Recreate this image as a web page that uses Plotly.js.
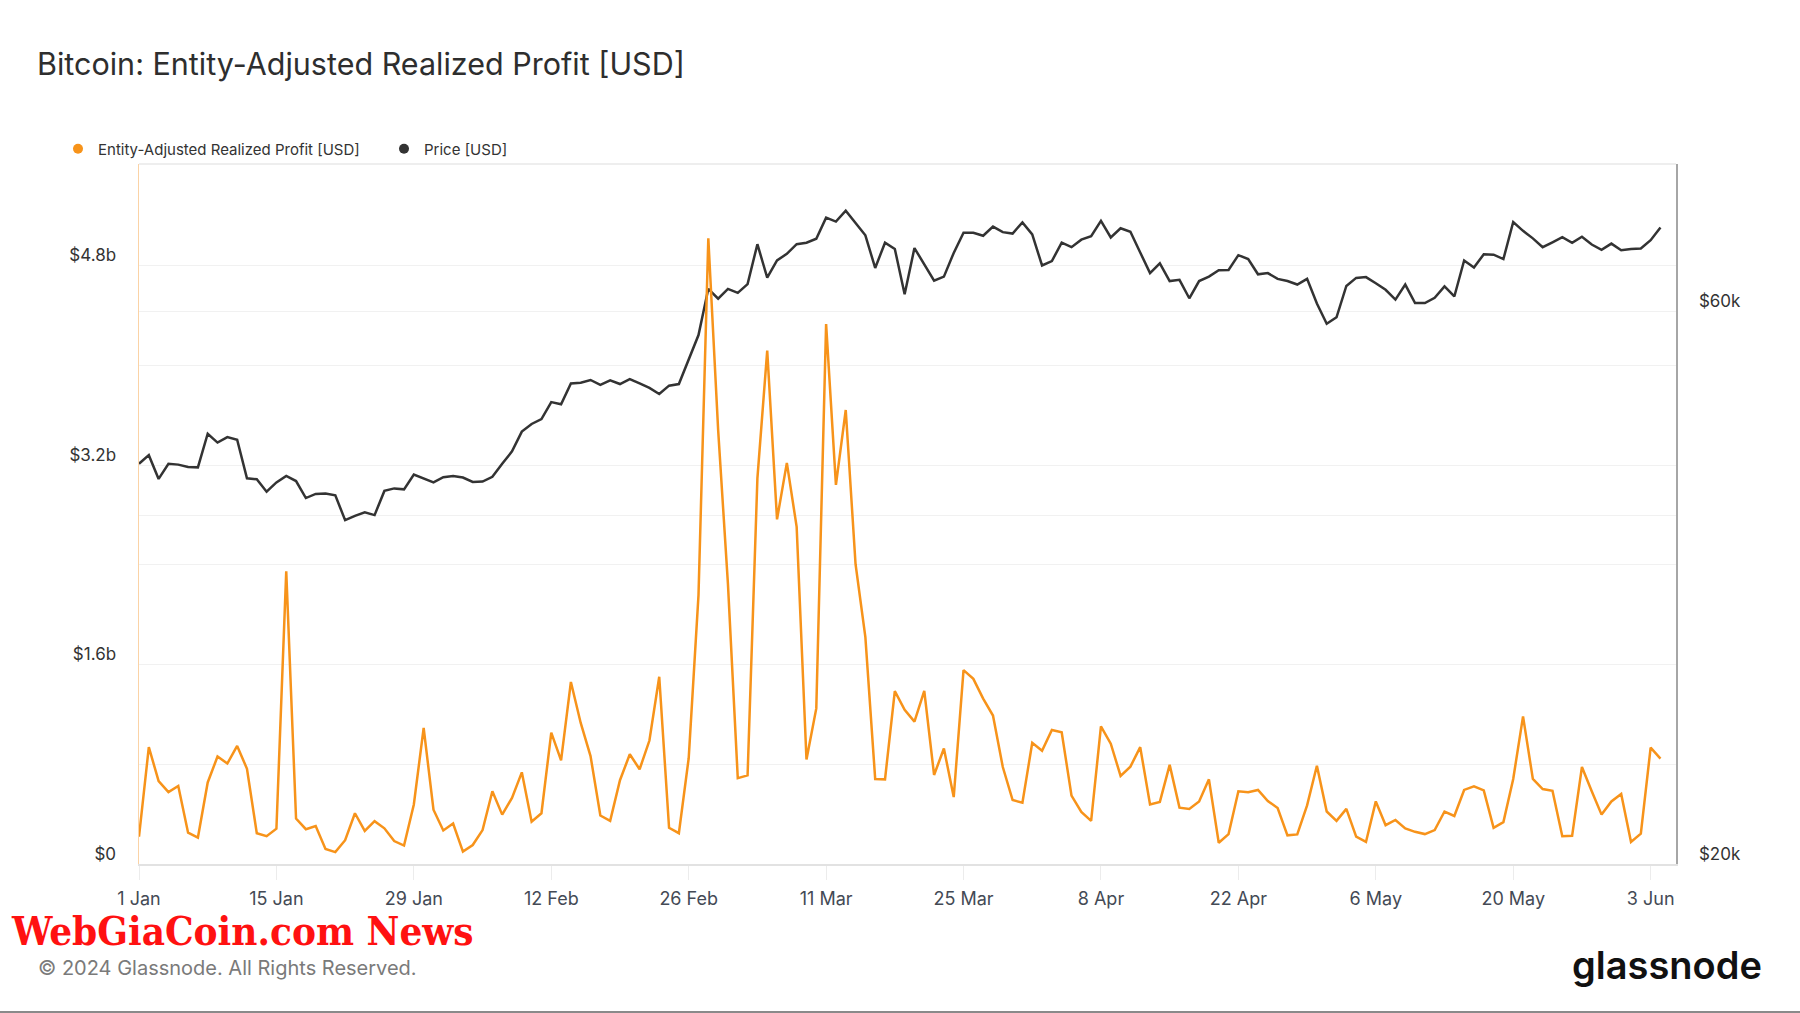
<!DOCTYPE html>
<html>
<head>
<meta charset="utf-8">
<script src="https://cdn.plot.ly/plotly-3.0.1.min.js"></script>
<style>
  html, body { margin: 0; padding: 0; background: #ffffff; }
  #chart { width: 1800px; height: 1013px; }
</style>
</head>
<body>
<div id="chart"></div>
<script>
// ---- Data (daily, starting 1 Jan 2024) ----
const startDate = "2024-01-01";

// Entity-Adjusted Realized Profit, in billions USD
const realizedProfitB = [
  0.219, 0.937, 0.665, 0.576, 0.626, 0.251, 0.212, 0.654, 0.862, 0.806,
  0.947, 0.764, 0.247, 0.223, 0.283, 2.347, 0.364, 0.279, 0.304, 0.120,
  0.095, 0.191, 0.407, 0.265, 0.343, 0.286, 0.184, 0.148, 0.477, 1.092,
  0.435, 0.269, 0.325, 0.099, 0.152, 0.272, 0.583, 0.396, 0.530, 0.735,
  0.339, 0.407, 1.053, 0.831, 1.460, 1.131, 0.866, 0.389, 0.346, 0.672,
  0.880, 0.760, 0.990, 1.502, 0.290, 0.247, 0.848, 2.156, 5.019, 3.482,
  2.245, 0.689, 0.711, 3.093, 4.118, 2.764, 3.217, 2.704, 0.838, 1.248,
  4.330, 3.040, 3.641, 2.404, 1.820, 0.682, 0.679, 1.386, 1.237, 1.142,
  1.389, 0.714, 0.926, 0.537, 1.555, 1.485, 1.326, 1.191, 0.778, 0.513,
  0.491, 0.972, 0.908, 1.075, 1.057, 0.548, 0.417, 0.346, 1.103, 0.965,
  0.707, 0.781, 0.937, 0.477, 0.498, 0.795, 0.452, 0.442, 0.502, 0.679,
  0.170, 0.240, 0.583, 0.576, 0.594, 0.505, 0.449, 0.230, 0.237, 0.470,
  0.788, 0.421, 0.346, 0.442, 0.219, 0.177, 0.502, 0.311, 0.353, 0.286,
  0.258, 0.240, 0.272, 0.421, 0.385, 0.594, 0.622, 0.590, 0.290, 0.336,
  0.682, 1.184, 0.682, 0.601, 0.587, 0.223, 0.226, 0.778, 0.583, 0.396,
  0.502, 0.562, 0.177, 0.244, 0.933, 0.845
];

// Bitcoin price, USD
const priceUsd = [
  44300, 45060, 42980, 44300, 44220, 44020, 43980, 47020, 46200, 46700,
  46460, 43030, 42950, 41900, 42680, 43240, 42800, 41380, 41720, 41760,
  41600, 39600, 39940, 40220, 40000, 41970, 42180, 42100, 43350, 43030,
  42680, 43130, 43240, 43100, 42720, 42760, 43160, 44300, 45400, 47220,
  47940, 48400, 50070, 49860, 51960, 52040, 52320, 51820, 52280, 51900,
  52400, 51960, 51500, 50880, 51730, 51900, 54600, 57200, 62700, 61480,
  62700, 62200, 63300, 68520, 64120, 66340, 67220, 68520, 68720, 69260,
  72220, 71660, 73240, 71480, 69740, 65360, 68720, 67880, 62040, 68000,
  65740, 63720, 64240, 67340, 70100, 70100, 69680, 70960, 70180, 69980,
  71540, 69860, 65680, 66260, 68720, 68120, 69140, 69620, 71780, 69440,
  70720, 70240, 67400, 64700, 65960, 63680, 63840, 61540, 63680, 64240,
  65060, 65100, 67040, 66520, 64540, 64700, 63960, 63680, 63240, 63960,
  60900, 58500, 59260, 63060, 64080, 64180, 63400, 62580, 61380, 63240,
  60960, 60960, 61600, 63000, 61760, 66340, 65420, 67160, 67100, 66520,
  71600, 70360, 69320, 68120, 68780, 69480, 68720, 69540, 68480, 67760,
  68600, 67700, 67880, 67940, 69060, 70840
];

// Axis tick labels
const profitTickVals = [0, 0.8e9, 1.6e9, 2.4e9, 3.2e9, 4.0e9, 4.8e9];
const profitTickText = ["$0", "", "$1.6b", "", "$3.2b", "", "$4.8b"];
const priceTickVals = [20000, 40000, 60000];
const priceTickText = ["$20k", "", "$60k"];

const seriesNames = ["Entity-Adjusted Realized Profit [USD]", "Price [USD]"];
const seriesColors = ["#f7931a", "#333333"];

// ---- Build traces ----
const dates = realizedProfitB.map((_, i) => {
  const d = new Date(startDate + "T00:00:00Z");
  d.setUTCDate(d.getUTCDate() + i);
  return d.toISOString().slice(0, 10);
});
const profitUsd = realizedProfitB.map(v => v * 1e9);

const FONT = "Inter, 'Noto Sans', 'DejaVu Sans', sans-serif";

const traces = [
  {
    x: dates, y: priceUsd, yaxis: "y", type: "scatter", mode: "lines",
    name: seriesNames[1], showlegend: false,
    line: { color: seriesColors[1], width: 2.5 }, hoverinfo: "skip"
  },
  {
    x: dates, y: profitUsd, yaxis: "y2", type: "scatter", mode: "lines",
    name: seriesNames[0], showlegend: false,
    line: { color: seriesColors[0], width: 2.5 }, hoverinfo: "skip"
  },
  {
    x: [null], y: [null], yaxis: "y2", type: "scatter", mode: "markers",
    name: seriesNames[0], showlegend: true,
    marker: { color: seriesColors[0], size: 10, symbol: "circle" }
  },
  {
    x: [null], y: [null], yaxis: "y", type: "scatter", mode: "markers",
    name: seriesNames[1], showlegend: true,
    marker: { color: seriesColors[1], size: 10, symbol: "circle" }
  }
];

const layout = {
  width: 1800, height: 1013, autosize: false,
  paper_bgcolor: "#ffffff", plot_bgcolor: "#ffffff",
  margin: { l: 139, r: 124, t: 164, b: 149, pad: 0 },
  font: { family: FONT, color: "#333333" },
  title: {
    text: "Bitcoin: Entity-Adjusted Realized Profit [USD]",
    font: { family: FONT, size: 30.5, color: "#2e2e2e" },
    x: 37 / 1800, xanchor: "left", xref: "container",
    y: 1 - 64 / 1013, yanchor: "middle", yref: "container"
  },
  showlegend: true,
  legend: {
    orientation: "h",
    x: (58 - 139) / 1537, xanchor: "left",
    y: (864 - 149) / 700, yanchor: "middle",
    font: { family: FONT, size: 15, color: "#333333" },
    bgcolor: "rgba(0,0,0,0)", borderwidth: 0,
    entrywidth: 281, entrywidthmode: "pixels",
    traceorder: "normal"
  },
  xaxis: {
    type: "date",
    range: ["2024-01-01", "2024-06-05 14:00"],
    tick0: "2024-01-01", dtick: 14 * 86400000,
    tickformat: "%-d %b",
    showgrid: false, zeroline: false,
    showline: true, linecolor: "#e2e2e2", linewidth: 1.5,
    ticks: "outside", ticklen: 14, tickwidth: 1, tickcolor: "#ececec",
    ticklabelstandoff: 4,
    tickfont: { family: FONT, size: 18, color: "#444a55" },
    fixedrange: true
  },
  yaxis: {
    type: "log",
    side: "right",
    range: [Math.log10(20000), 4.905],
    tickvals: priceTickVals, ticktext: priceTickText,
    showgrid: true, gridcolor: "#f1f1f1", gridwidth: 1,
    zeroline: false,
    showline: true, linecolor: "#a6a6a6", linewidth: 1.5,
    ticks: "", ticklabelstandoff: 18, ticklabelshift: -10,
    tickfont: { family: FONT, size: 17, color: "#333333" },
    fixedrange: true
  },
  yaxis2: {
    overlaying: "y", side: "left",
    range: [0, 5.614e9],
    tickvals: profitTickVals, ticktext: profitTickText,
    showgrid: true, gridcolor: "#f1f1f1", gridwidth: 1,
    zeroline: false,
    showline: true, linecolor: "#fbd3a6", linewidth: 1.5,
    ticks: "", ticklabelstandoff: 18, ticklabelshift: -10,
    tickfont: { family: FONT, size: 17, color: "#333333" },
    fixedrange: true
  },
  shapes: [
    { type: "line", xref: "paper", yref: "paper", x0: 0, x1: 1, y0: 1, y1: 1,
      line: { color: "#e8e8e8", width: 1.5 } },
    { type: "line", xref: "paper", yref: "paper",
      x0: -139 / 1537, x1: (1800 - 139) / 1537,
      y0: (864 - 1012) / 700, y1: (864 - 1012) / 700,
      line: { color: "#8a8a8a", width: 2 } }
  ],
  annotations: [
    { text: "WebGiaCoin.com News", xref: "paper", yref: "paper",
      x: (9 - 139) / 1537, xanchor: "left",
      y: (864 - 930) / 700, yanchor: "middle", showarrow: false,
      font: { family: "'DejaVu Serif Condensed', 'DejaVu Serif', serif", size: 40, color: "#ff1111", weight: 700 } },
    { text: "© 2024 Glassnode. All Rights Reserved.", xref: "paper", yref: "paper",
      x: (36 - 139) / 1537, xanchor: "left",
      y: (864 - 968) / 700, yanchor: "middle", showarrow: false,
      font: { family: FONT, size: 20, color: "#7a7a7a" } },
    { text: "glassnode", xref: "paper", yref: "paper",
      x: (1764 - 139) / 1537, xanchor: "right",
      y: (864 - 965) / 700, yanchor: "middle", showarrow: false,
      font: { family: FONT, size: 38, color: "#111111", weight: 600 } }
  ]
};

Plotly.newPlot("chart", traces, layout, { staticPlot: true, displayModeBar: false });
</script>
</body>
</html>
